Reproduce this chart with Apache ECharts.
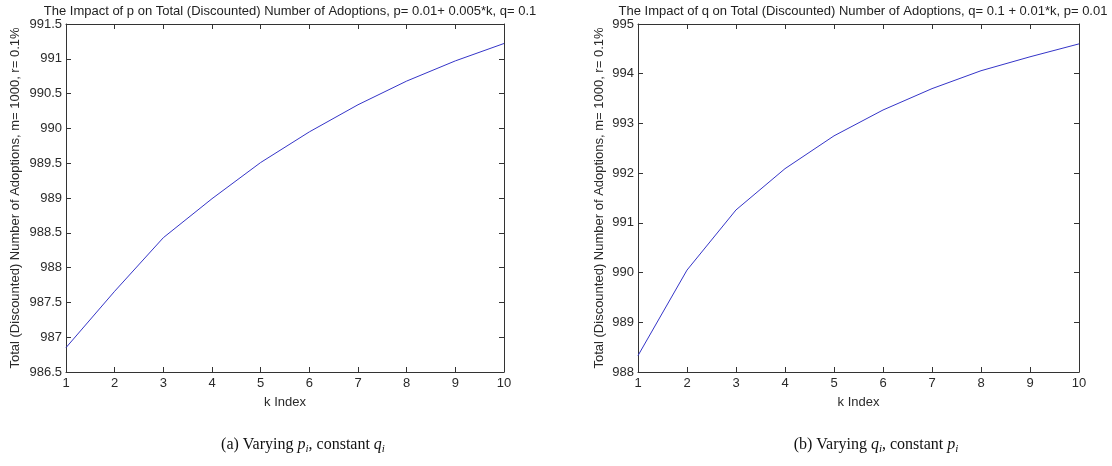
<!DOCTYPE html>
<html><head><meta charset="utf-8">
<script src="https://cdn.jsdelivr.net/npm/echarts@6/dist/echarts.min.js"></script>
<style>html,body{margin:0;padding:0;background:#fff}#c{width:1112px;height:466px}</style>
</head><body><div id="c"></div>
<script>
const kIndex = [1,2,3,4,5,6,7,8,9,10];
const adoptionsVaryP = [986.85, 987.66, 988.43, 988.99, 989.51, 989.95, 990.34, 990.68, 990.97, 991.22];
const adoptionsVaryQ = [988.33, 990.05, 991.26, 992.09, 992.75, 993.27, 993.70, 994.06, 994.34, 994.60];
const titleP = 'The Impact of p on Total (Discounted) Number of Adoptions, p= 0.01+ 0.005*k, q= 0.1';
const titleQ = 'The Impact of q on Total (Discounted) Number of Adoptions, q= 0.1 + 0.01*k, p= 0.01';
const yLabel = 'Total (Discounted) Number of Adoptions, m= 1000, r= 0.1%';
const xLabel = 'k Index';

const FONT = '"Liberation Sans", Arial, sans-serif';
const SERIF = '"Liberation Serif", "Times New Roman", serif';
const AX = '#333';
const TXT = '#2a2a2a';
const FS = 13;

function pairs(xs, ys){ return xs.map((x,i)=>[x, ys[i]]); }

function xAx(gi, pos, show){
  return {type:'value', gridIndex:gi, position:pos, min:1, max:10, interval:1,
    axisLine:{show:true, onZero:false, lineStyle:{color:AX, width:1}},
    axisTick:{show:true, inside:true, length:5, lineStyle:{color:AX}},
    axisLabel:{show:show, color:TXT, fontFamily:FONT, fontSize:FS, margin:5},
    splitLine:{show:false},
    name: show ? xLabel : '', nameLocation:'middle', nameGap:24,
    nameTextStyle:{color:TXT, fontFamily:FONT, fontSize:FS}};
}
function yAx(gi, pos, show, min, max, iv, gap){
  return {type:'value', gridIndex:gi, position:pos, min:min, max:max, interval:iv,
    axisLine:{show:true, onZero:false, lineStyle:{color:AX, width:1}},
    axisTick:{show:true, inside:true, length:5, lineStyle:{color:AX}},
    axisLabel:{show:show, color:TXT, fontFamily:FONT, fontSize:FS, margin:4},
    splitLine:{show:false},
    name: show ? yLabel : '', nameLocation:'middle', nameGap:gap, nameRotate:90,
    nameTextStyle:{color:TXT, fontFamily:FONT, fontSize:FS}};
}

const rich = {
  n:{fontFamily:SERIF, fontSize:16, fontWeight:'normal', color:'#111', lineHeight:20, verticalAlign:'middle'},
  i:{fontFamily:SERIF, fontSize:16, fontWeight:'normal', fontStyle:'italic', color:'#111', lineHeight:20, verticalAlign:'middle'},
  s:{fontFamily:SERIF, fontSize:11, fontWeight:'normal', fontStyle:'italic', color:'#111', lineHeight:10, verticalAlign:'bottom'}
};
const capStyle = {fontWeight:'normal', rich:rich};

const chart = echarts.init(document.getElementById('c'), null, {renderer:'canvas'});
chart.setOption({
  animation:false,
  backgroundColor:'#fff',
  title:[
    {text:titleP, left:285, top:0, textAlign:'center', textStyle:{fontFamily:FONT, fontSize:FS, fontWeight:'normal', color:'#222'}},
    {text:titleQ, left:858, top:0, textAlign:'center', textStyle:{fontFamily:FONT, fontSize:FS, fontWeight:'normal', color:'#222'}},
    {text:'{n|(a) Varying }{i|p}{s|i}{n|, constant }{i|q}{s|i}', left:298, top:430, textAlign:'center', textStyle:capStyle},
    {text:'{n|(b) Varying }{i|q}{s|i}{n|, constant }{i|p}{s|i}', left:871, top:430, textAlign:'center', textStyle:capStyle}
  ],
  grid:[
    {left:66, top:24, width:438, height:348},
    {left:638, top:24, width:441, height:348}
  ],
  xAxis:[xAx(0,'bottom',true), xAx(1,'bottom',true), xAx(0,'top',false), xAx(1,'top',false)],
  yAxis:[yAx(0,'left',true,986.5,991.5,0.5,44), yAx(1,'left',true,988,995,1,32),
         yAx(0,'right',false,986.5,991.5,0.5,0), yAx(1,'right',false,988,995,1,0)],
  series:[
    {type:'line', xAxisIndex:0, yAxisIndex:0, data:pairs(kIndex, adoptionsVaryP), showSymbol:false, symbol:'none',
     lineStyle:{color:'#3535c8', width:1}},
    {type:'line', xAxisIndex:1, yAxisIndex:1, data:pairs(kIndex, adoptionsVaryQ), showSymbol:false, symbol:'none',
     lineStyle:{color:'#3535c8', width:1}}
  ]
});
</script>
</body></html>
